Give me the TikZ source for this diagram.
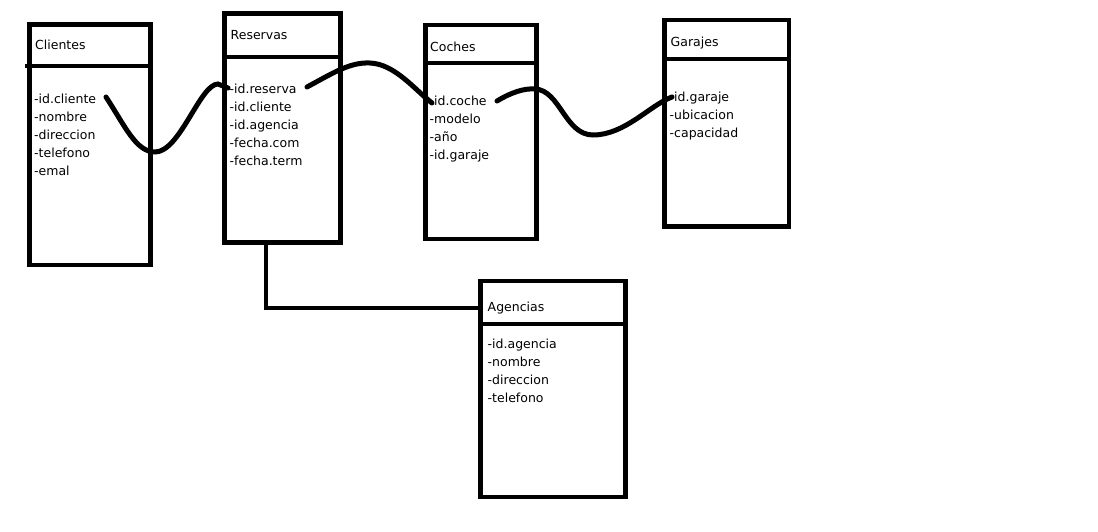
\documentclass[tikz,border=0pt]{standalone}
\usepackage{fontspec}
\setmainfont{DejaVu Sans}
\begin{document}
\begin{tikzpicture}[x=1pt,y=-1pt,
  ent/.style={draw=black,line width=4.5pt,rectangle,inner sep=0pt,outer sep=0pt},
  divl/.style={line width=4.5pt},
  lbl/.style={anchor=base west,inner sep=0pt,font=\fontsize{12.5}{14}\selectfont},
  rel/.style={line width=5pt,line cap=round},
  link/.style={line width=4.5pt}]
\useasboundingbox (0,0) rectangle (1098,531);
% entity boxes
\node[ent,minimum width=121pt,minimum height=240.5pt] (cli) at (90,144.75) {};
\node[ent,minimum width=116pt,minimum height=229pt] (res) at (282.5,128) {};
\node[ent,minimum width=111pt,minimum height=214pt] (coc) at (481,132) {};
\node[ent,minimum width=124.5pt,minimum height=206.5pt] (gar) at (726.75,123.25) {};
\node[ent,minimum width=145pt,minimum height=216pt] (age) at (553,389) {};
% dividers
\draw[divl] (25,66) -- (cli.east |- 0,66);
\draw[divl] (res.west |- 0,57) -- (res.east |- 0,57);
\draw[divl] (coc.west |- 0,63) -- (coc.east |- 0,63);
\draw[divl] (gar.west |- 0,59) -- (gar.east |- 0,59);
\draw[divl] (age.west |- 0,324) -- (age.east |- 0,324);
% Clientes
\node[lbl] (clih) at (35,49.3) {Clientes};
\node[lbl] (cli1) at (34,103) {-id.cliente};
\node[lbl] (cli2) at (34,121) {-nombre};
\node[lbl] (cli3) at (34,139) {-direccion};
\node[lbl] (cli4) at (34,157) {-telefono};
\node[lbl] (cli5) at (34,175) {-emal};
% Reservas
\node[lbl] (resh) at (230.5,39) {Reservas};
\node[lbl] (res1) at (229.5,93) {-id.reserva};
\node[lbl] (res2) at (229.5,111) {-id.cliente};
\node[lbl] (res3) at (229.5,129) {-id.agencia};
\node[lbl] (res4) at (229.5,147) {-fecha.com};
\node[lbl] (res5) at (229.5,165) {-fecha.term};
% Coches
\node[lbl] (coch) at (430,51.7) {Coches};
\node[lbl] (coc1) at (429.5,105.7) {-id.coche};
\node[lbl] (coc2) at (429.5,123.7) {-modelo};
\node[lbl] (coc3) at (429.5,141.7) {-año};
\node[lbl] (coc4) at (429.5,159.7) {-id.garaje};
% Garajes
\node[lbl] (garh) at (670.5,46.7) {Garajes};
\node[lbl] (gar1) at (669.5,101) {-id.garaje};
\node[lbl] (gar2) at (669.5,119) {-ubicacion};
\node[lbl] (gar3) at (669.5,137) {-capacidad};
% Agencias
\node[lbl] (ageh) at (487.5,311.7) {Agencias};
\node[lbl] (age1) at (487.5,348.3) {-id.agencia};
\node[lbl] (age2) at (487.5,366.3) {-nombre};
\node[lbl] (age3) at (487.5,384.3) {-direccion};
\node[lbl] (age4) at (487.5,402.3) {-telefono};
% connector end points
\coordinate (a1) at (106,97);
\coordinate (a2) at (228,88);
\coordinate (b1) at (307,87);
\coordinate (b2) at (432,103);
\coordinate (c1) at (497,101);
\coordinate (c2) at (672,97);
\coordinate (j) at (266,308);
% relationships
\draw[rel] (a1) .. controls (125,126) and (136,152) .. (155,152)
  .. controls (180,152) and (200,84) .. (218,84) -- (a2);
\draw[rel] (b1) .. controls (333,73) and (350,62) .. (370,63)
  .. controls (395,64) and (415,90) .. (b2);
\draw[rel] (c1) .. controls (510,93) and (524,88) .. (535,89)
  .. controls (560,90) and (565,135) .. (593,135)
  .. controls (625,135) and (650,105) .. (c2);
\draw[link] (res.south -| j) |- (age.west |- j);
\end{tikzpicture}
\end{document}
